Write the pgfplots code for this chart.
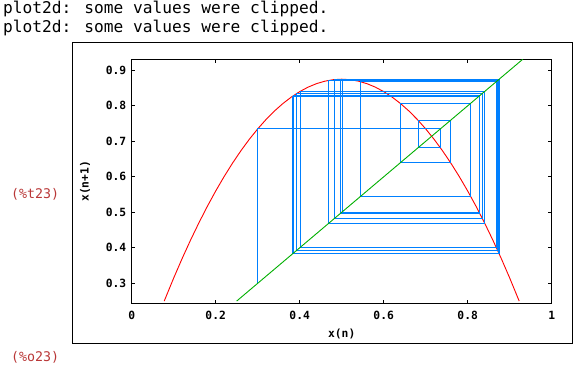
\documentclass[border=0pt]{standalone}
\usepackage{pgfplots}
\pgfplotsset{compat=1.18}
\usepackage{fontspec}
\newfontfamily\monofont{DejaVu Sans Mono}
\definecolor{lblred}{RGB}{185,55,55}
\definecolor{cobblue}{RGB}{0,128,255}
\definecolor{diaggreen}{RGB}{0,175,0}
\begin{document}
\begin{tikzpicture}
\path[use as bounding box] (0pt,0pt) rectangle (574pt,369pt);
% console text
\node[anchor=base west,inner sep=0pt,font=\monofont\fontsize{16.2}{19}\selectfont] at (3pt,355pt) {plot2d: some values were clipped.};
\node[anchor=base west,inner sep=0pt,font=\monofont\fontsize{16.2}{19}\selectfont] at (3pt,336pt) {plot2d: some values were clipped.};
\node[anchor=west,inner sep=0pt,text=lblred,font=\monofont\fontsize{13.3}{15}\selectfont] at (11pt,175pt) {(\%t23)};
\node[anchor=west,inner sep=0pt,text=lblred,font=\monofont\fontsize{13.3}{15}\selectfont] at (11pt,12pt) {(\%o23)};
% outer frame
\draw[line width=1pt] (72.3pt,25pt) rectangle (572.5pt,326pt);
\begin{axis}[
  at={(131.7pt,65.7pt)}, anchor=south west,
  width=420pt, height=244pt, scale only axis,
  xmin=0, xmax=1, ymin=0.2437, ymax=0.931,
  xtick={0,0.2,0.4,0.6,0.8,1},
  ytick={0.3,0.4,0.5,0.6,0.7,0.8,0.9},
  tick align=inside, major tick length=3.5pt,
  axis line style={line width=1pt},
  every tick/.style={line width=1pt,black},
  /pgf/number format/assume math mode=true,
  /pgf/number format/fixed, /pgf/number format/precision=1,
  ticklabel style={font=\monofont\bfseries\fontsize{11.3}{13}\selectfont},
  xticklabel style={yshift=-4pt},
  yticklabel style={xshift=-2pt},
  xlabel={x(n)}, ylabel={x(n+1)},
  every axis x label/.style={at={(axis description cs:0.5,0)}, anchor=center, yshift=-31pt, font=\monofont\bfseries\fontsize{11.3}{13}\selectfont},
  every axis y label/.style={at={(axis description cs:0,0.5)}, rotate=90, anchor=center, yshift=46.5pt, font=\monofont\bfseries\fontsize{11.3}{13}\selectfont},
  clip=true,
]
\addplot[red, line width=0.9pt] coordinates {
(0.0774,0.2499)(0.10,0.315)(0.12,0.3696)(0.14,0.4214)(0.16,0.4704)(0.18,0.5166)
(0.20,0.56)(0.22,0.6006)(0.24,0.6384)(0.26,0.6734)(0.28,0.7056)(0.30,0.735)
(0.32,0.7616)(0.34,0.7854)(0.36,0.8064)(0.38,0.8246)(0.40,0.84)(0.42,0.8526)
(0.44,0.8624)(0.46,0.8694)(0.48,0.8736)(0.50,0.875)(0.52,0.8736)(0.54,0.8694)
(0.56,0.8624)(0.58,0.8526)(0.60,0.84)(0.62,0.8246)(0.64,0.8064)(0.66,0.7854)
(0.68,0.7616)(0.70,0.735)(0.72,0.7056)(0.74,0.6734)(0.76,0.6384)(0.78,0.6006)
(0.80,0.56)(0.82,0.5166)(0.84,0.4704)(0.86,0.4214)(0.88,0.3696)(0.90,0.315)
(0.9226,0.2499)};
\addplot[cobblue, line width=0.9pt] coordinates {
(0.3,0.3)(0.3,0.735)(0.735,0.735)(0.735,0.6817)(0.6817,0.6817)(0.6817,0.7594)
(0.7594,0.7594)(0.7594,0.6394)(0.6394,0.6394)(0.6394,0.8070)(0.8070,0.8070)
(0.8070,0.5452)(0.5452,0.5452)(0.5452,0.8678)(0.8678,0.8678)(0.8678,0.4014)
(0.4014,0.4014)(0.4014,0.8410)(0.8410,0.8410)(0.8410,0.4680)(0.4680,0.4680)
(0.4680,0.8714)(0.8714,0.8714)(0.8714,0.3922)(0.3922,0.3922)(0.3922,0.8343)
(0.8343,0.8343)(0.8343,0.4839)(0.4839,0.4839)(0.4839,0.8741)(0.8741,0.8741)
(0.8741,0.3852)(0.3852,0.3852)(0.3852,0.8289)(0.8289,0.8289)(0.8289,0.4965)
(0.4965,0.4965)(0.4965,0.8750)(0.8750,0.8750)(0.8750,0.3829)(0.3829,0.3829)
(0.3829,0.8270)(0.8270,0.8270)(0.8270,0.5007)(0.5007,0.5007)(0.5007,0.8750)
(0.8750,0.8750)(0.8750,0.3828)(0.3828,0.3828)(0.3828,0.8269)(0.8269,0.8269)
(0.8269,0.5009)(0.5009,0.5009)(0.5009,0.8750)(0.8750,0.8750)};
\addplot[diaggreen, line width=0.9pt] coordinates {(0.25,0.25)(0.931,0.931)};
\end{axis}
\end{tikzpicture}
\end{document}
